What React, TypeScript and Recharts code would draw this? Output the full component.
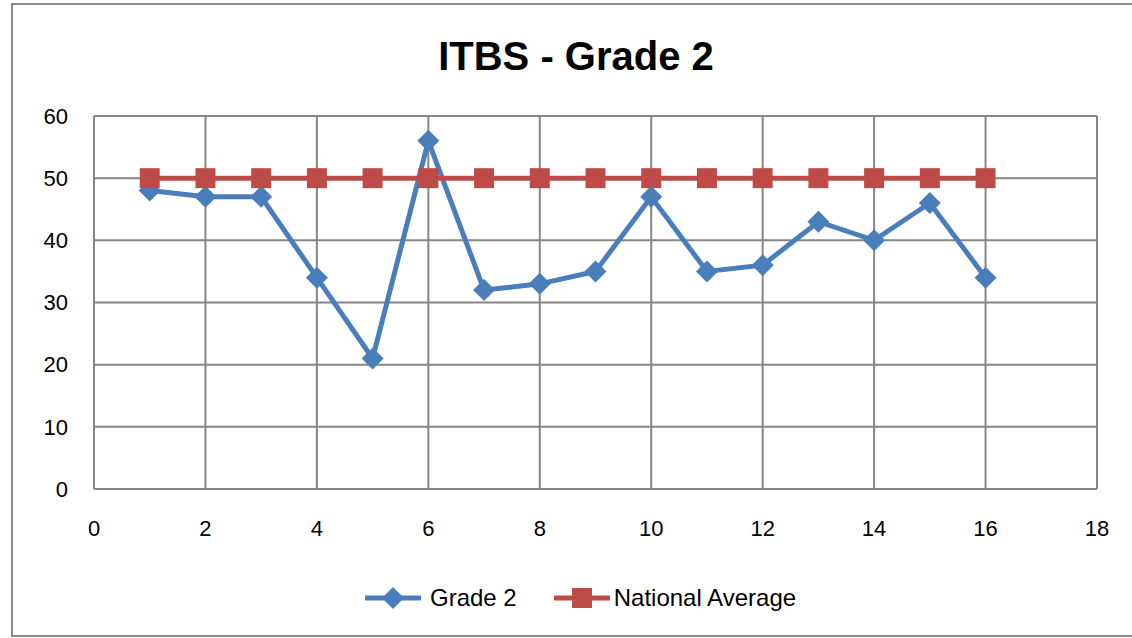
import { CartesianGrid, Legend, Line, LineChart, XAxis, YAxis } from "recharts";

const FONT = '"Liberation Sans", Arial, sans-serif';
const BLUE = "#4a7ebb";
const RED = "#be4b48";
const GRID = "#868686";

const TITLE = "ITBS - Grade 2";
const positions = [1, 2, 3, 4, 5, 6, 7, 8, 9, 10, 11, 12, 13, 14, 15, 16];
const grade2 = [48, 47, 47, 34, 21, 56, 32, 33, 35, 47, 35, 36, 43, 40, 46, 34];
const nationalAvg = [50, 50, 50, 50, 50, 50, 50, 50, 50, 50, 50, 50, 50, 50, 50, 50];
const xTicks = [0, 2, 4, 6, 8, 10, 12, 14, 16, 18];
const yTicks = [0, 10, 20, 30, 40, 50, 60];

const rows = positions.map((x, i) => ({ x, grade2: grade2[i], national: nationalAvg[i] }));

function Diamond(props: any) {
  const { cx, cy } = props;
  if (cx == null || cy == null) return <g key={props.key} />;
  const r = 11;
  return (
    <path
      key={props.key}
      d={`M${cx},${cy - r}L${cx + r},${cy}L${cx},${cy + r}L${cx - r},${cy}Z`}
      fill={BLUE}
    />
  );
}

function Square(props: any) {
  const { cx, cy } = props;
  if (cx == null || cy == null) return <g key={props.key} />;
  return <rect key={props.key} x={cx - 10} y={cy - 10} width={20} height={20} fill={RED} />;
}

function LegendBox() {
  return (
    <div
      style={{
        height: 40,
        display: "flex",
        alignItems: "center",
        paddingLeft: 365,
        fontFamily: FONT,
        fontSize: 24,
        color: "#000",
      }}
    >
      <svg width={56} height={24}>
        <line x1={0} y1={12} x2={56} y2={12} stroke={BLUE} strokeWidth={5} />
        <path d="M28,1L39,12L28,23L17,12Z" fill={BLUE} />
      </svg>
      <span style={{ marginLeft: 9, marginRight: 37 }}>Grade 2</span>
      <svg width={56} height={24}>
        <line x1={0} y1={12} x2={56} y2={12} stroke={RED} strokeWidth={5} />
        <rect x={18} y={2} width={20} height={20} fill={RED} />
      </svg>
      <span style={{ marginLeft: 4 }}>National Average</span>
    </div>
  );
}

export default function App() {
  return (
    <div
      style={{
        position: "fixed",
        left: 0,
        top: 0,
        width: 1132,
        height: 638,
        background: "#fff",
        overflow: "hidden",
      }}
    >
      <div
        style={{
          position: "absolute",
          left: 11,
          top: 3,
          width: 1200,
          height: 630,
          border: "2px solid #8c8c8c",
        }}
      />
      <div
        style={{
          position: "absolute",
          left: 10,
          top: 36,
          width: 1132,
          textAlign: "center",
          fontFamily: FONT,
          fontWeight: "bold",
          fontSize: 40,
          lineHeight: "40px",
          color: "#000",
        }}
      >
        {TITLE}
      </div>
      <LineChart
        width={1132}
        height={638}
        data={rows}
        margin={{ top: 116, right: 35, left: 0, bottom: 20 }}
        style={{ position: "absolute", left: 0, top: 0 }}
      >
        <CartesianGrid stroke={GRID} strokeWidth={2} />
        <XAxis
          type="number"
          dataKey="x"
          domain={[0, 18]}
          ticks={xTicks}
          interval={0}
          height={89}
          tickLine={false}
          axisLine={{ stroke: GRID, strokeWidth: 2 }}
          tickMargin={25}
          tick={{ fill: "#000", fontSize: 22, fontFamily: FONT }}
        />
        <YAxis
          type="number"
          domain={[0, 60]}
          ticks={yTicks}
          interval={0}
          width={94}
          tickLine={false}
          axisLine={{ stroke: GRID, strokeWidth: 2 }}
          tickMargin={20}
          tick={{ fill: "#000", fontSize: 22, fontFamily: FONT }}
        />
        <Legend verticalAlign="bottom" content={() => <LegendBox />} />
        <Line
          type="linear"
          dataKey="grade2"
          name="Grade 2"
          stroke={BLUE}
          strokeWidth={5}
          dot={Diamond}
          activeDot={false}
          isAnimationActive={false}
        />
        <Line
          type="linear"
          dataKey="national"
          name="National Average"
          stroke={RED}
          strokeWidth={5}
          dot={Square}
          activeDot={false}
          isAnimationActive={false}
        />
      </LineChart>
    </div>
  );
}
